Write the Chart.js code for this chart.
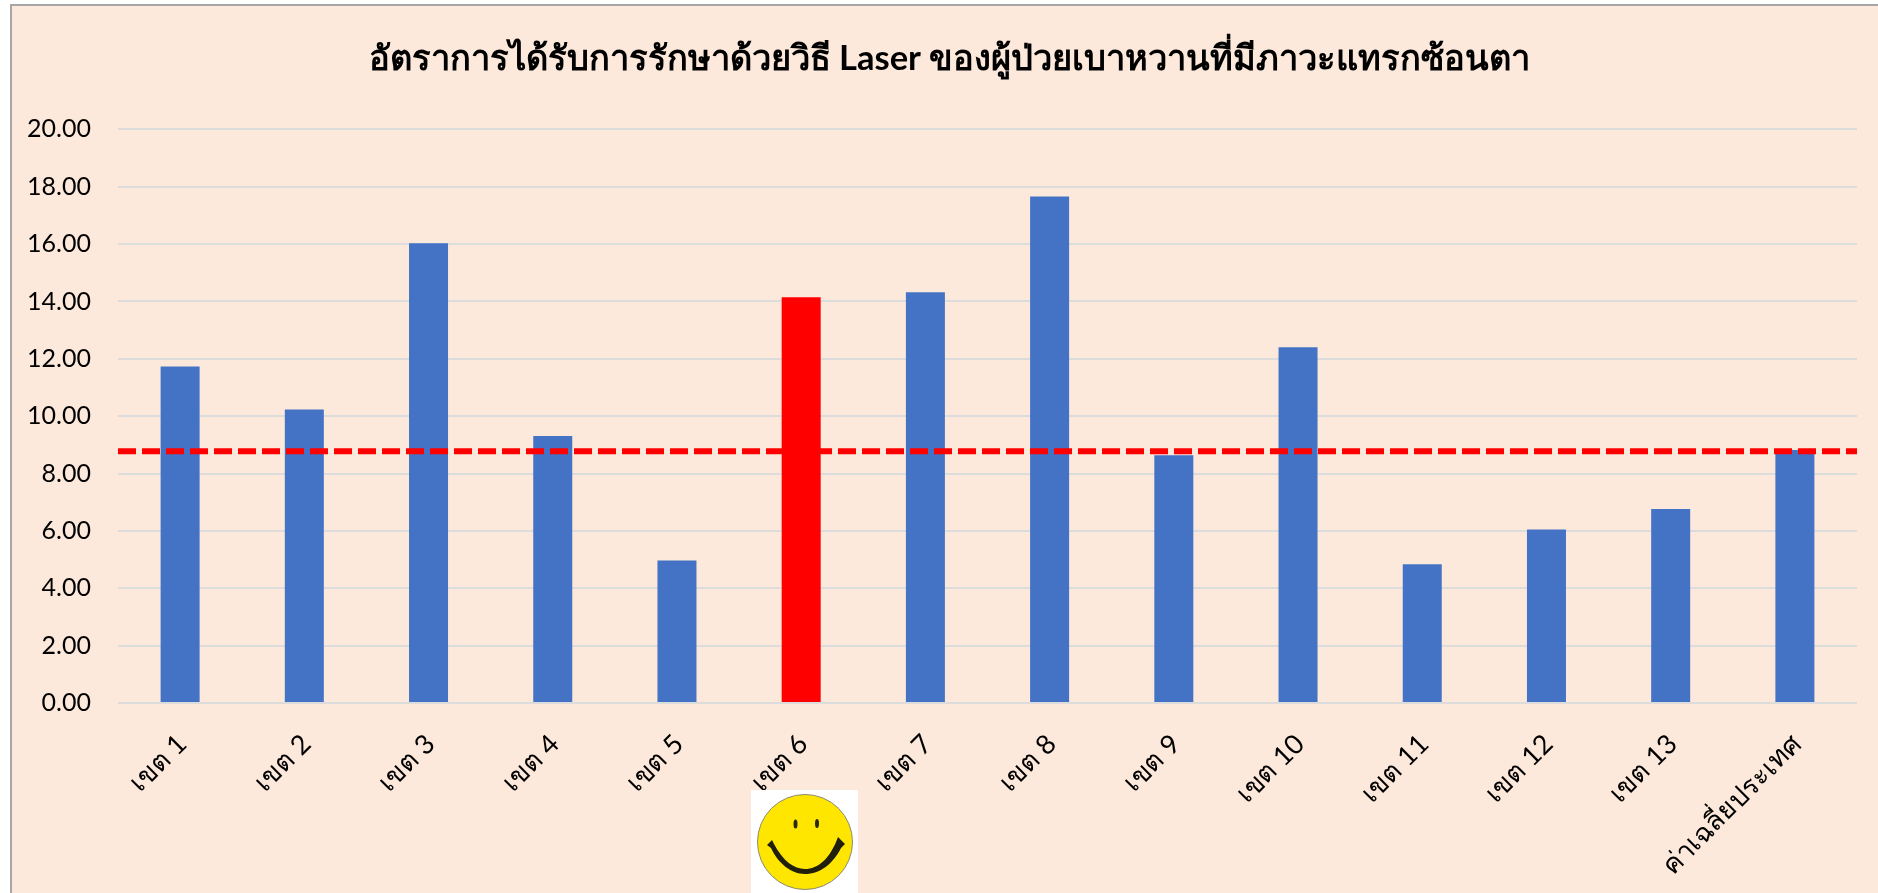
<!DOCTYPE html>
<html>
<head>
<meta charset="utf-8">
<script src="https://cdn.jsdelivr.net/npm/chart.js@4"></script>
<style>
  html, body { margin: 0; padding: 0; background: #fff; overflow: hidden; }
  #frame { position: absolute; left: 10px; top: 4px; width: 1868px; height: 889px; background: #fde9db; border-left: 2px solid #a6a6a6; border-top: 2px solid #a6a6a6; box-sizing: border-box; }
  #plot { position: absolute; left: 0; top: 0; }
  #smiley { position: absolute; left: 751px; top: 790px; width: 107px; height: 103px; background: #fff; }
</style>
</head>
<body>
<div id="frame"></div>
<canvas id="plot" width="1878" height="893"></canvas>
<svg id="smiley" viewBox="0 0 107 103">
  <circle cx="54" cy="52" r="47.5" fill="#ffe600" stroke="#8a8a7a" stroke-width="1"/>
  <ellipse cx="44.5" cy="34" rx="2" ry="4.5" fill="#2a2a10"/>
  <ellipse cx="66" cy="33.5" rx="2" ry="4.5" fill="#2a2a10"/>
  <path d="M16 55 L21 50 L23 54 C32 71 43 79 54 79 C67 79 79 69 87 47 L94 54 L90 58 C82 74 69 84 54 84 C40 84 27 73 20 58 Z" fill="#1f1f0c"/>
</svg>
<script>
const titleText = "อัตราการได้รับการรักษาด้วยวิธี Laser ของผู้ป่วยเบาหวานที่มีภาวะแทรกซ้อนตา";
const categories = ["เขต 1", "เขต 2", "เขต 3", "เขต 4", "เขต 5", "เขต 6", "เขต 7", "เขต 8", "เขต 9", "เขต 10", "เขต 11", "เขต 12", "เขต 13", "ค่าเฉลี่ยประเทศ"];
const rates = [11.73, 10.23, 16.03, 9.31, 4.97, 14.15, 14.32, 17.66, 8.64, 12.40, 4.84, 6.05, 6.76, 8.82];
const barColors = ["#4472c4", "#4472c4", "#4472c4", "#4472c4", "#4472c4", "#ff0000", "#4472c4", "#4472c4", "#4472c4", "#4472c4", "#4472c4", "#4472c4", "#4472c4", "#4472c4"];
const averageLine = [8.78, 8.78];
const averageLineX = [0, 1];

const fontFamily = "Lato, 'Noto Sans', sans-serif";

// the left padding only centres the title, so let the y labels use that space
const widenYLabels = {
    id: "widenYLabels",
    afterLayout(chart) {
        chart.scales.y.left = 0;
    }
};

new Chart(document.getElementById("plot").getContext("2d"), {
    type: "bar",
    plugins: [widenYLabels],
    data: {
        labels: categories,
        datasets: [
            {
                data: rates,
                backgroundColor: barColors,
                barPercentage: 0.314,
                categoryPercentage: 1,
                grouped: false,
                order: 1
            },
            {
                type: "line",
                data: averageLineX.map((x, i) => ({ x: x, y: averageLine[i] })),
                xAxisID: "x2",
                borderColor: "#ff0000",
                borderWidth: 6,
                borderDash: [18, 6],
                pointRadius: 0,
                order: 0
            }
        ]
    },
    options: {
        responsive: false,
        animation: false,
        layout: { padding: { left: 42, right: 21, top: 0, bottom: 0 } },
        plugins: {
            legend: { display: false },
            tooltip: { enabled: false },
            title: {
                display: true,
                text: titleText,
                color: "#000",
                font: { family: fontFamily, size: 34.5, weight: "bold" },
                padding: { top: 38, bottom: 50 }
            }
        },
        scales: {
            x: {
                grid: { display: false },
                border: { display: false },
                ticks: {
                    color: "#000",
                    font: { family: fontFamily, size: 27 },
                    minRotation: 45,
                    maxRotation: 45,
                    padding: 17,
                    labelOffset: 2,
                    autoSkip: false
                },
                afterFit: (scale) => { scale.height = 190; }
            },
            x2: { type: "linear", display: false, min: 0, max: 1, offset: false },
            y: {
                min: 0,
                max: 20,
                border: { display: false },
                grid: { color: "#dcdcdc", lineWidth: 2, drawTicks: false },
                ticks: {
                    stepSize: 2,
                    color: "#000",
                    padding: 27,
                    font: { family: fontFamily, size: 25 },
                    callback: (value) => value.toFixed(2)
                },
                afterFit: (scale) => { scale.width = 76; }
            }
        }
    }
});
</script>
</body>
</html>
